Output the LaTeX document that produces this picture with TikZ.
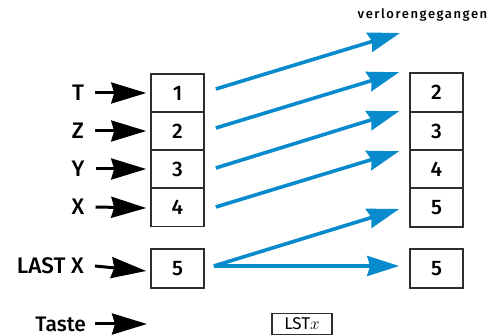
\documentclass[tikz,border=0pt]{standalone}
\usepackage{fontspec}
\setmainfont{Fira Sans}[BoldFont={Fira Sans Medium}]
\usetikzlibrary{arrows.meta}
\definecolor{arrblue}{RGB}{8,139,204}
\definecolor{boxline}{RGB}{45,45,45}
\begin{document}
\begin{tikzpicture}[x=1pt,y=-1pt,
  reg/.style={draw=boxline,line width=1.6pt,minimum width=53pt,minimum height=38pt,inner sep=0pt,font=\fontsize{21}{21}\selectfont\bfseries},
  lab/.style={inner sep=0pt,font=\fontsize{22.5}{22.5}\selectfont\bfseries},
  blk/.style={line width=3pt,black,-{Stealth[length=35pt,width=21pt,inset=3pt]}},
  blu/.style={line width=3.6pt,arrblue,-{Stealth[length=32pt,width=20pt,inset=3pt]}}]
\useasboundingbox (0,0) rectangle (495,336);
% left stack
\node[reg] (b1) at (177.5,93) {1};
\node[reg] (b2) at (177.5,131) {2};
\node[reg] (b3) at (177.5,169) {3};
\node[reg] (b4) at (177.5,207.5) {4};
\node[reg,minimum height=39pt] (bl) at (177.5,268.5) {5};
% right stack
\node[reg,minimum height=39pt] (r2) at (436.5,92.5) {2};
\node[reg] (r3) at (436.5,131) {3};
\node[reg] (r4) at (436.5,169) {4};
\node[reg,minimum height=39pt] (r5) at (436.5,207.5) {5};
\node[reg,minimum height=39pt] (rl) at (436.5,268.5) {5};
% labels
\node[lab,minimum width=12pt] (lT) at (78,93) {T};
\node[lab,minimum width=12pt] (lZ) at (78,131) {Z};
\node[lab,minimum width=12pt] (lY) at (78,169) {Y};
\node[lab,minimum width=12pt] (lX) at (78,207) {X};
\node[lab,anchor=east] (lL) at (84,266) {LAST X};
\node[lab,anchor=east,font=\fontsize{21}{21}\selectfont\bfseries] (lK) at (86,324) {Taste};
\node[inner sep=0pt,font=\fontsize{13}{13}\selectfont\bfseries\addfontfeature{LetterSpace=12}] (lost) at (422.5,15) {verlorengegangen};
\node[draw=boxline,line width=1.2pt,minimum width=60pt,minimum height=21pt,inner sep=0pt,font=\fontsize{17}{17}\selectfont] (key) at (302,324) {LST$x$};
\coordinate (kend) at (147,324);
% black arrows
\draw[blk] ([xshift=11pt]lT.east) -- ([xshift=-4pt]b1.west);
\draw[blk] ([xshift=11pt]lZ.east) -- ([xshift=-4pt]b2.west);
\draw[blk] ([xshift=11pt]lY.east) -- ([xshift=-4pt]b3.west);
\draw[blk] ([xshift=11pt]lX.east) -- ([xshift=-4pt,yshift=-0.5pt]b4.west);
\draw[blk] ([xshift=11pt]lL.east) -- ([xshift=-4pt,yshift=-2.5pt]bl.west);
\draw[blk] ([xshift=9pt]lK.east) -- (kend);
% blue arrows
\coordinate (t0) at (400,33);
\draw[blu] ([shift={(11,-4)}]b1.east) -- (t0);
\draw[blu] ([shift={(11,-3)}]b2.east) -- ([xshift=-10pt]r2.north west);
\draw[blu] ([shift={(11,-1)}]b3.east) -- ([xshift=-10pt]r3.north west);
\draw[blu] ([shift={(11,-0.5)}]b4.east) -- ([shift={(-10,2)}]r4.north west);
\draw[blu] ([shift={(9,-2.5)}]bl.east) -- ([shift={(-10,1.5)}]r5.west);
\draw[blu] ([shift={(9,-2.5)}]bl.east) -- ([shift={(-10,-2.5)}]rl.west);
\end{tikzpicture}
\end{document}
